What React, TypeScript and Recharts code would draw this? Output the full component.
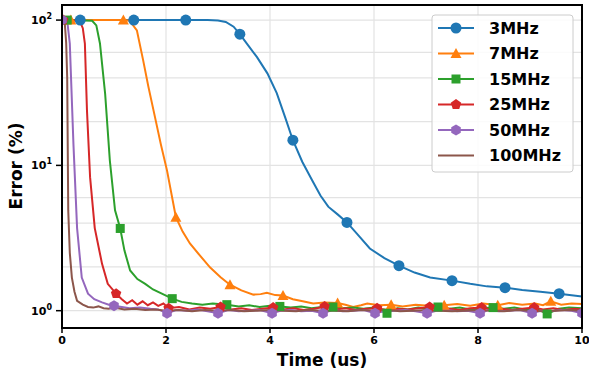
import { CartesianGrid, Line, LineChart, XAxis, YAxis } from "recharts";

// time (us) and error (%)
const x3 = [0, 0.35, 1.38, 2.38, 2.8, 3.0, 3.15, 3.3, 3.42, 3.58, 3.75, 3.95, 4.13, 4.3, 4.44, 4.62, 4.81, 4.97, 5.12, 5.3, 5.48, 5.7, 5.92, 6.2, 6.48, 6.78, 7.08, 7.5, 7.85, 8.17, 8.52, 8.85, 9.2, 9.56, 10];
const y3 = [100, 100, 100, 100, 100, 99.5, 97, 90, 80, 67, 55.6, 43, 31.4, 21, 14.9, 10.6, 7.9, 6.2, 5.2, 4.6, 4.05, 3.3, 2.68, 2.3, 2.04, 1.83, 1.69, 1.61, 1.53, 1.47, 1.44, 1.39, 1.35, 1.31, 1.25];
const m3 = [0.35, 1.38, 2.38, 3.42, 4.44, 5.48, 6.48, 7.5, 8.52, 9.56];

const x7 = [0, 0.17, 1.18, 1.3, 1.44, 1.56, 1.66, 1.76, 1.9, 2.02, 2.19, 2.32, 2.46, 2.65, 2.85, 3.05, 3.23, 3.45, 3.68, 3.82, 3.94, 4.1, 4.25, 4.44, 4.63, 4.83, 5.05, 5.3, 5.45, 5.6, 5.75, 5.87, 6.1, 6.33, 6.55, 6.8, 7.05, 7.35, 7.6, 7.85, 8.1, 8.38, 8.6, 8.85, 9.1, 9.25, 9.4, 9.6, 9.8, 10];
const y7 = [100, 100, 100, 99, 85, 53, 35, 23.9, 14, 9.2, 4.4, 3.5, 2.9, 2.4, 1.98, 1.7, 1.51, 1.38, 1.29, 1.3, 1.33, 1.28, 1.27, 1.2, 1.16, 1.12, 1.14, 1.13, 1.1, 1.06, 1.09, 1.12, 1.09, 1.1, 1.07, 1.1, 1.08, 1.09, 1.11, 1.08, 1.12, 1.09, 1.13, 1.1, 1.12, 1.09, 1.16, 1.1, 1.12, 1.11];
const m7 = [0.17, 1.18, 2.19, 3.23, 4.25, 5.3, 6.33, 7.35, 8.38, 9.4];

const x15 = [0, 0.1, 0.58, 0.66, 0.73, 0.83, 0.92, 1.02, 1.12, 1.2, 1.31, 1.45, 1.6, 1.75, 1.92, 2.12, 2.3, 2.5, 2.7, 2.9, 3.17, 3.4, 3.6, 3.8, 4.0, 4.19, 4.4, 4.6, 4.8, 5.0, 5.21, 5.4, 5.6, 5.8, 6.0, 6.25, 6.45, 6.65, 6.85, 7.05, 7.23, 7.45, 7.65, 7.85, 8.05, 8.29, 8.5, 8.7, 8.9, 9.1, 9.33, 9.55, 9.75, 10];
const y15 = [100, 100, 99, 92, 69, 31, 10.8, 4.9, 3.68, 2.6, 1.89, 1.65, 1.53, 1.4, 1.31, 1.21, 1.15, 1.12, 1.1, 1.12, 1.1, 1.07, 1.09, 1.06, 1.08, 1.07, 1.05, 1.07, 1.04, 1.06, 1.06, 1.04, 1.05, 1.03, 1.05, 0.96, 1.04, 1.02, 1.05, 1.03, 1.06, 1.03, 1.05, 1.02, 1.04, 1.05, 1.03, 1.05, 1.02, 1.04, 0.95, 1.03, 1.05, 1.04];
const m15 = [0.1, 1.12, 2.12, 3.17, 4.19, 5.21, 6.25, 7.23, 8.29, 9.33];

const x25 = [0, 0.02, 0.34, 0.4, 0.44, 0.48, 0.54, 0.63, 0.77, 0.88, 1.04, 1.15, 1.25, 1.35, 1.45, 1.55, 1.65, 1.75, 1.85, 1.95, 2.05, 2.25, 2.45, 2.65, 2.85, 3.05, 3.25, 3.45, 3.65, 3.85, 4.06, 4.25, 4.45, 4.65, 4.85, 5.05, 5.25, 5.45, 5.65, 5.85, 6.06, 6.25, 6.45, 6.65, 6.85, 7.07, 7.25, 7.45, 7.65, 7.85, 8.07, 8.25, 8.45, 8.65, 8.85, 9.08, 9.25, 9.45, 9.65, 9.85, 10];
const y25 = [100, 100, 99, 88, 69, 24, 8.3, 3.7, 2.1, 1.53, 1.31, 1.2, 1.12, 1.18, 1.1, 1.16, 1.09, 1.14, 1.08, 1.12, 1.04, 1.06, 1.02, 1.05, 1.03, 1.06, 1.02, 1.04, 1.01, 1.03, 1.05, 1.02, 1.04, 1.01, 1.03, 1.07, 1.02, 1.04, 1.01, 1.03, 1.04, 1.01, 1.03, 1.02, 1.04, 1.06, 1.02, 1.03, 1.01, 1.04, 1.05, 1.02, 1.03, 1.01, 1.03, 1.05, 1.02, 1.04, 1.01, 1.03, 1.02];
const m25 = [0.02, 1.04, 2.05, 3.05, 4.06, 5.05, 6.06, 7.07, 8.07, 9.08];

const x50 = [0, 0.1, 0.15, 0.22, 0.29, 0.38, 0.5, 0.62, 0.77, 0.9, 1.0, 1.15, 1.3, 1.5, 1.7, 1.85, 2.02, 2.2, 2.4, 2.6, 2.8, 3.0, 3.2, 3.4, 3.6, 3.8, 4.04, 4.2, 4.4, 4.6, 4.8, 5.02, 5.2, 5.4, 5.6, 5.8, 6.02, 6.2, 6.4, 6.6, 6.8, 7.02, 7.2, 7.4, 7.6, 7.8, 8.04, 8.2, 8.4, 8.6, 8.8, 9.04, 9.2, 9.4, 9.6, 9.8, 10];
const y50 = [100, 99, 69, 14, 3.7, 1.69, 1.31, 1.2, 1.14, 1.1, 1.08, 1.06, 1.04, 1.05, 1.03, 1.02, 0.96, 1.01, 1.0, 1.02, 0.99, 0.96, 1.01, 0.99, 1.0, 1.01, 0.96, 1.0, 1.01, 0.99, 1.0, 0.96, 1.01, 0.99, 1.0, 1.01, 0.96, 0.99, 1.0, 1.01, 0.99, 0.96, 1.0, 1.01, 0.99, 1.0, 0.96, 1.01, 0.99, 1.0, 1.01, 0.96, 1.0, 0.99, 1.01, 1.0, 0.96];
const m50 = [0, 1.0, 2.02, 3.0, 4.04, 5.02, 6.02, 7.02, 8.04, 9.04, 10];

const x100 = [0, 0.05, 0.08, 0.1, 0.12, 0.15, 0.19, 0.24, 0.29, 0.4, 0.5, 0.6, 0.7, 0.8, 0.9, 1.0, 1.2, 1.4, 1.6, 1.8, 2.0, 2.25, 2.5, 2.75, 3.0, 3.25, 3.5, 3.75, 4.0, 4.25, 4.5, 4.75, 5.0, 5.25, 5.5, 5.75, 6.0, 6.25, 6.5, 6.75, 7.0, 7.25, 7.5, 7.75, 8.0, 8.25, 8.5, 8.75, 9.0, 9.25, 9.5, 9.75, 10];
const y100 = [100, 99, 70, 40, 4.9, 2.5, 1.69, 1.35, 1.17, 1.1, 1.06, 1.05, 1.07, 1.04, 1.03, 1.05, 1.02, 1.03, 1.01, 1.02, 1.0, 1.01, 0.99, 1.01, 1.0, 1.01, 0.99, 1.0, 1.01, 1.0, 0.99, 1.01, 1.0, 1.0, 0.99, 1.01, 1.0, 1.01, 0.99, 1.0, 1.01, 1.0, 0.99, 1.0, 1.01, 1.0, 0.99, 1.01, 1.0, 0.99, 1.0, 1.01, 1.0];

const xTicks = [0, 2, 4, 6, 8, 10];
const yTicks = [1, 10, 100];
const yMinor = [0.8, 0.9, 1, 2, 3, 4, 5, 6, 7, 8, 9, 10, 20, 30, 40, 50, 60, 70, 80, 90, 100];

const series = [
	{ name: "3MHz", color: "#1f77b4", shape: "circle", xs: x3, ys: y3, marks: m3 },
	{ name: "7MHz", color: "#ff7f0e", shape: "triangle", xs: x7, ys: y7, marks: m7 },
	{ name: "15MHz", color: "#2ca02c", shape: "square", xs: x15, ys: y15, marks: m15 },
	{ name: "25MHz", color: "#d62728", shape: "pentagon", xs: x25, ys: y25, marks: m25 },
	{ name: "50MHz", color: "#9467bd", shape: "hexagon", xs: x50, ys: y50, marks: m50 },
	{ name: "100MHz", color: "#8c564b", shape: "none", xs: x100, ys: y100, marks: [] as number[] },
];

const FONT = "'DejaVu Sans', sans-serif";

function polygon(cx: number, cy: number, r: number, n: number) {
	const pts: string[] = [];
	for (let i = 0; i < n; i++) {
		const a = -Math.PI / 2 + (i * 2 * Math.PI) / n;
		pts.push(`${cx + r * Math.cos(a)},${cy + r * Math.sin(a)}`);
	}
	return pts.join(" ");
}

function Marker({ shape, color, cx, cy }: any) {
	if (shape === "circle") return <circle cx={cx} cy={cy} r={5.5} fill={color} />;
	if (shape === "triangle")
		return <polygon points={`${cx},${cy - 5.5} ${cx - 5.5},${cy + 4.5} ${cx + 5.5},${cy + 4.5}`} fill={color} />;
	if (shape === "square") return <rect x={cx - 4.5} y={cy - 4.5} width={9} height={9} fill={color} />;
	if (shape === "pentagon") return <polygon points={polygon(cx, cy, 5.5, 5)} fill={color} />;
	if (shape === "hexagon") return <polygon points={polygon(cx, cy, 5.5, 6)} fill={color} />;
	return null;
}

const makeDot = (shape: string, color: string, marks: number[]) => (props: any) => {
	const { cx, cy, payload, index } = props;
	if (cx == null || cy == null || !marks.includes(payload.x)) return <g key={`d${index}`} />;
	return (
		<g key={`d${index}`}>
			<Marker shape={shape} color={color} cx={cx} cy={cy} />
		</g>
	);
};

function YTick({ x, y, payload }: any) {
	const exp = Math.round(Math.log10(payload.value));
	return (
		<text x={x} y={y} dy={4} textAnchor="end" fontFamily={FONT} fontWeight="bold" fontSize={11} fill="#000">
			<tspan>10</tspan>
			<tspan dy={-5} fontSize={8}>
				{exp}
			</tspan>
		</text>
	);
}

function LegendBox() {
	return (
		<svg width={143} height={159} style={{ position: "absolute", left: 431, top: 14 }}>
			<rect x={1} y={1} width={141} height={157} rx={3} fill="#fff" fillOpacity={0.85} stroke="#cccccc" />
			{series.map((s, i) => {
				const cy = 14 + i * 25.5;
				return (
					<g key={s.name}>
						<line x1={7} x2={43} y1={cy} y2={cy} stroke={s.color} strokeWidth={2} />
						<Marker shape={s.shape} color={s.color} cx={25} cy={cy} />
						<text x={58} y={cy} dy={5.5} fontFamily={FONT} fontWeight="bold" fontSize={16} fill="#000">
							{s.name}
						</text>
					</g>
				);
			})}
		</svg>
	);
}

export default function App() {
	return (
		<div style={{ position: "absolute", left: 0, top: 0, width: 589, height: 375, background: "#fff" }}>
			<LineChart width={589} height={375} margin={{ top: 5, right: 7, left: 12, bottom: 7 }}>
				<CartesianGrid
					stroke="#e3e3e3"
					strokeWidth={1.2}
					horizontalValues={yMinor}
					verticalValues={[2, 4, 6, 8]}
				/>
				<XAxis
					type="number"
					dataKey="x"
					domain={[0, 10]}
					ticks={xTicks}
					allowDataOverflow
					height={40}
					axisLine={false}
					tickSize={5}
					tickMargin={3}
					tickLine={{ stroke: "#000", strokeWidth: 1.5 }}
					tick={{ fontFamily: FONT, fontWeight: "bold", fontSize: 11, fill: "#000" }}
					label={{
						value: "Time (us)",
						position: "insideBottom",
						offset: 2,
						style: { fontFamily: FONT, fontWeight: "bold", fontSize: 17, fill: "#000" },
					}}
				/>
				<YAxis
					type="number"
					dataKey="y"
					scale="log"
					domain={[0.76, 127]}
					ticks={yTicks}
					allowDataOverflow
					width={50}
					axisLine={false}
					tickSize={6}
					tickMargin={4}
					tickLine={{ stroke: "#000", strokeWidth: 1.5 }}
					tick={<YTick />}
					label={{
						content: () => (
							<text
								x={16}
								y={166}
								transform="rotate(-90 16 166)"
								textAnchor="middle"
								dominantBaseline="central"
								fontFamily={FONT}
								fontWeight="bold"
								fontSize={17}
								fill="#000"
							>
								Error (%)
							</text>
						),
					}}
				/>
				{series.map((s) => (
					<Line
						key={s.name}
						data={s.xs.map((x, i) => ({ x, y: s.ys[i] }))}
						dataKey="y"
						name={s.name}
						type="linear"
						stroke={s.color}
						strokeWidth={2}
						dot={makeDot(s.shape, s.color, s.marks)}
						activeDot={false}
						isAnimationActive={false}
					/>
				))}
			</LineChart>
			<div
				style={{
					position: "absolute",
					left: 61,
					top: 4,
					width: 522,
					height: 325,
					border: "2px solid #000",
					boxSizing: "border-box",
					pointerEvents: "none",
				}}
			/>
			<LegendBox />
		</div>
	);
}
